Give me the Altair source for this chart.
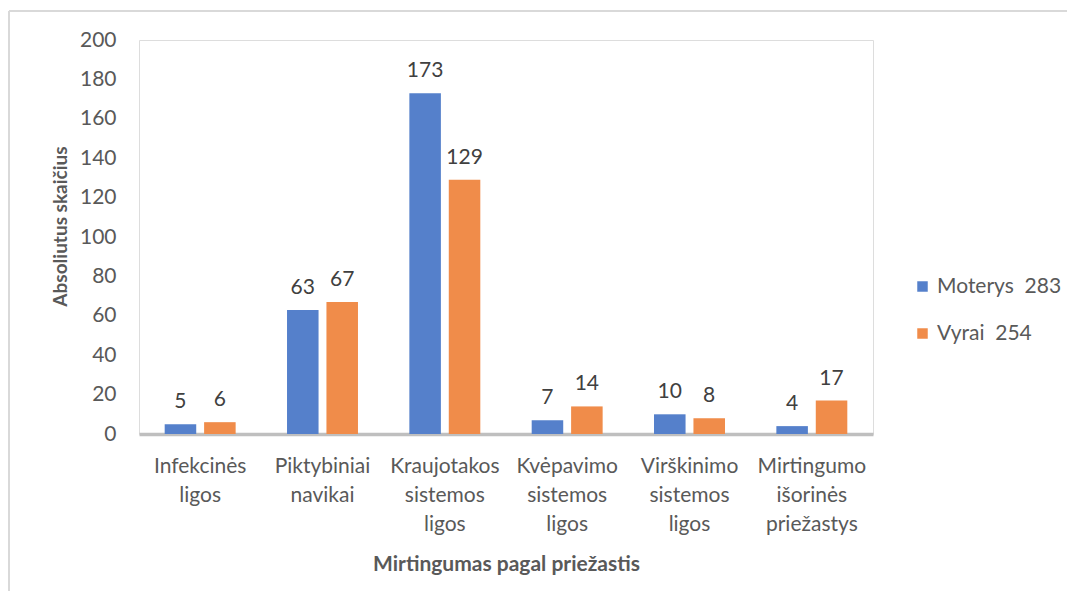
import altair as alt
import pandas as pd

categories = ["Infekcinės ligos", "Piktybiniai navikai", "Kraujotakos sistemos ligos",
              "Kvėpavimo sistemos ligos", "Virškinimo sistemos ligos",
              "Mirtingumo išorinės priežastys"]
series = ["Moterys", "Vyrai"]
legend_labels = ["Moterys\u00a0\u00a0283", "Vyrai\u00a0\u00a0254"]
moterys = [5, 63, 173, 7, 10, 4]
vyrai = [6, 67, 129, 14, 8, 17]
colors = ["#5580CB", "#F08C4A"]

rows = []
for c, m, v in zip(categories, moterys, vyrai):
    rows.append({"cat": c, "ser": legend_labels[0], "val": m})
    rows.append({"cat": c, "ser": legend_labels[1], "val": v})
df = pd.DataFrame(rows)

FONT = "Lato"
W, H = 734, 394

x = alt.X("cat:N", sort=categories,
          scale=alt.Scale(paddingInner=0.42, paddingOuter=0.21),
          axis=alt.Axis(title="Mirtingumas pagal priežastis", labelAngle=0,
                        labelExpr="split(datum.label, ' ')",
                        labelFont=FONT, labelFontSize=21, labelColor="#595959",
                        labelLineHeight=29, labelPadding=21, labelBaseline="top",
                        ticks=False, domainColor="#BFBFBF", domainWidth=3.5,
                        titleFont=FONT, titleFontSize=21, titleFontWeight="bold",
                        titleColor="#595959", titlePadding=19))
xo = alt.XOffset("ser:N", sort=legend_labels,
                 scale=alt.Scale(paddingInner=0.2, paddingOuter=0))
y = alt.Y("val:Q", scale=alt.Scale(domain=[0, 200]),
          axis=alt.Axis(title="Absoliutus skaičius", values=list(range(0, 201, 20)),
                        grid=False, domain=False, ticks=False,
                        labelFont=FONT, labelFontSize=21, labelColor="#595959",
                        labelPadding=23,
                        titleFont=FONT, titleFontSize=19, titleFontWeight="bold",
                        titleColor="#595959", titlePadding=9, titleY=186))
color = alt.Color("ser:N", sort=legend_labels,
                  scale=alt.Scale(domain=legend_labels, range=colors),
                  legend=alt.Legend(title=None, orient="none", legendX=773, legendY=236,
                                    symbolType="square", symbolSize=110,
                                    symbolStrokeWidth=0, rowPadding=25,
                                    labelFont=FONT, labelFontSize=21,
                                    labelColor="#595959", labelOffset=4))

base = alt.Chart(df)
bars = base.mark_bar().encode(x=x, xOffset=xo, y=y, color=color)
labels = base.mark_text(font=FONT, fontSize=21, color="#404040",
                        baseline="alphabetic", dy=-16).encode(
    x=x, xOffset=xo, y=y, text="val:Q")

border_left = alt.Chart(df).mark_rule(color="#D9D9D9", strokeWidth=2).encode(
    x=alt.value(-130), y=alt.value(-29), y2=alt.value(600))
border_top = alt.Chart(df).mark_rule(color="#D9D9D9", strokeWidth=2).encode(
    x=alt.value(-130), x2=alt.value(1000), y=alt.value(-29))

chart = alt.layer(border_left, border_top, bars, labels).properties(
    width=W, height=H,
    autosize=alt.AutoSizeParams(type="none"),
    padding={"left": 131, "top": 32, "right": 194, "bottom": 157},
).configure_view(stroke=None).configure(background="white")

chart.save("out.html", embed_options={"renderer": "svg", "actions": False})
